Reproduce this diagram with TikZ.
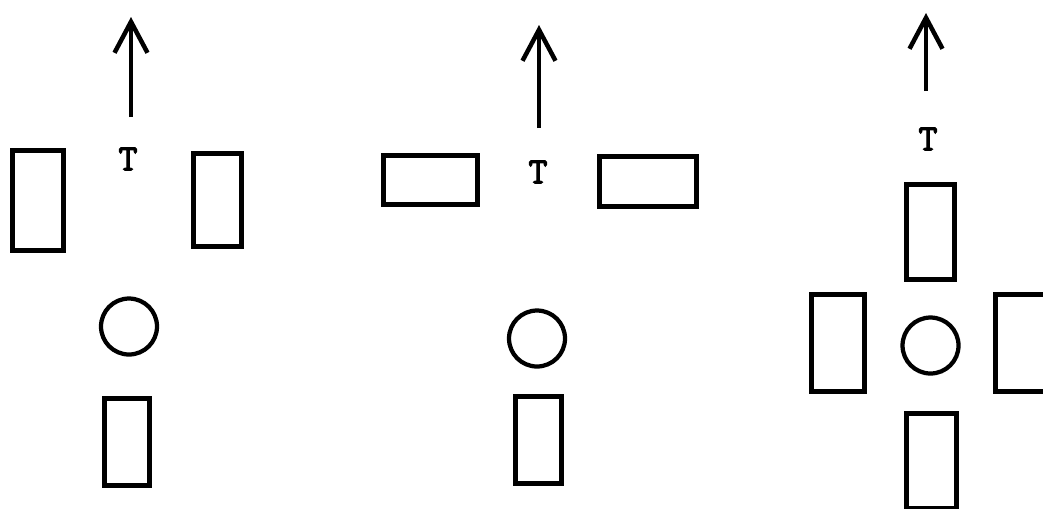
\documentclass[tikz,border=0pt]{standalone}
\usepackage{fontspec}
\newfontfamily\tfont{Latin Modern Mono}[FakeBold=3]
\usetikzlibrary{arrows.meta}

\begin{document}
\begin{tikzpicture}[
    x=0.02cm, y=-0.02cm,
    block/.style={rectangle, draw, line width=0.095cm, inner sep=0pt},
    ring/.style={circle, draw, line width=0.085cm, inner sep=0pt, minimum size=1.12cm},
    tlabel/.style={font=\fontsize{21}{22}\selectfont\tfont, inner sep=0pt},
    dir/.style={line width=0.09cm, -{Straight Barb[length=0.62cm, width=0.66cm]}}
]
    \clip (0,0) rectangle (1043,508);

    % first layout
    \node[block, minimum width=1.02cm, minimum height=2.0cm] (leftA) at (38,200.5) {};
    \node[block, minimum width=0.96cm, minimum height=1.86cm] (rightA) at (217.5,200) {};
    \node[ring] (ringA) at (129,326.5) {};
    \node[block, minimum width=0.9cm, minimum height=1.74cm] (lowA) at (127,442) {};
    \node[tlabel] (tA) at (128,159) {T};
    \coordinate (tailA) at (131,117);
    \coordinate (tipA) at (131,17);
    \draw[dir] (tailA) -- (tipA);

    % second layout
    \node[block, minimum width=1.88cm, minimum height=0.98cm] (leftB) at (430.5,180) {};
    \node[block, minimum width=1.94cm, minimum height=1.0cm] (rightB) at (648,181.5) {};
    \node[ring] (ringB) at (537,338.5) {};
    \node[block, minimum width=0.92cm, minimum height=1.74cm] (lowB) at (538.5,440) {};
    \node[tlabel] (tB) at (538,172) {T};
    \coordinate (tailB) at (539,128);
    \coordinate (tipB) at (539,25);
    \draw[dir] (tailB) -- (tipB);

    % third layout
    \node[block, minimum width=0.96cm, minimum height=1.9cm] (topC) at (930.5,232) {};
    \node[block, minimum width=1.06cm, minimum height=1.94cm] (leftC) at (838,343) {};
    \node[block, minimum width=1.06cm, minimum height=1.94cm] (rightC) at (1022,343) {};
    \node[ring] (ringC) at (930.5,345.5) {};
    \node[block, minimum width=1.0cm, minimum height=1.9cm] (lowC) at (931.5,461) {};
    \node[tlabel] (tC) at (928,139) {T};
    \coordinate (tailC) at (926,91);
    \coordinate (tipC) at (926,13);
    \draw[dir] (tailC) -- (tipC);
\end{tikzpicture}
\end{document}
